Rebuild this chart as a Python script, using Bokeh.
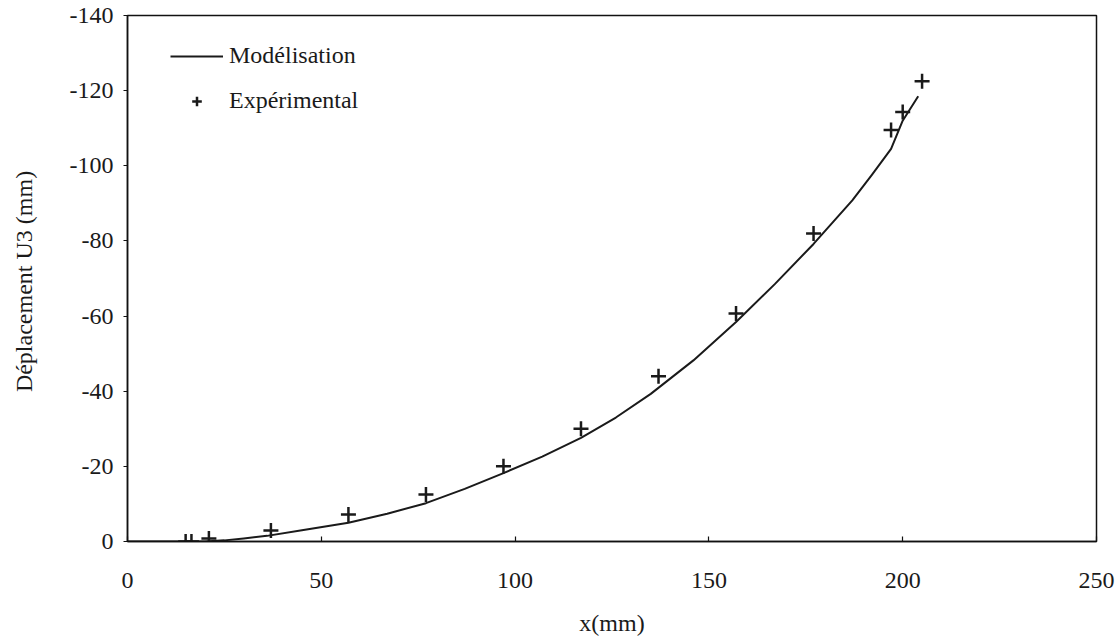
from bokeh.plotting import figure
from bokeh.models import Range1d, FixedTicker, Legend, LegendItem
from bokeh.embed import file_html
from bokeh.resources import INLINE

# Model curve (Modélisation)
model_x = [0, 20, 25, 30, 36, 45, 57, 67, 77, 87, 97, 107, 117, 126, 135, 146, 157, 167, 177, 182, 187, 192, 197, 200, 204]
model_y = [0, 0, -0.3, -0.8, -1.5, -3, -5, -7.4, -10.2, -14, -18.2, -22.6, -27.6, -33, -39.3, -48.2, -58.4, -68.5, -79.2, -85, -90.8, -97.5, -104.5, -112, -118.5]

# Experimental points
exp_x = [15, 16.5, 21, 37, 57, 77, 97, 117, 137, 157, 177, 197, 200, 205]
exp_y = [0, 0, -0.8, -2.9, -7.2, -12.5, -20, -30, -44, -60.7, -82, -109.5, -114.3, -122.5]

x_ticks = [0, 50, 100, 150, 200, 250]
y_ticks = [0, -20, -40, -60, -80, -100, -120, -140]
y_tick_labels = ["0", "-20", "-40", "-60", "-80", "-100", "-120", "-140"]

FONT = "'Liberation Serif', 'Times New Roman', 'DejaVu Serif', serif"

p = figure(width=1119, height=638, output_backend="svg", toolbar_location=None,
           x_range=Range1d(0, 250), y_range=Range1d(0, -140),
           min_border_left=127, min_border_right=23, min_border_top=15, min_border_bottom=97)

p.xgrid.visible = False
p.ygrid.visible = False
p.outline_line_color = "#111111"
p.outline_line_width = 1.5
p.background_fill_color = "white"
p.border_fill_color = "white"

r_line = p.line(model_x, model_y, line_color="#1a1a1a", line_width=2, line_join="round")
r_pts = p.scatter(exp_x, exp_y, marker="cross", size=15, line_color="#1a1a1a", line_width=2.5)

xa = p.xaxis[0]
xa.ticker = FixedTicker(ticks=x_ticks)
xa.axis_label = "x(mm)"
xa.major_tick_in = 5
xa.major_tick_out = 0
xa.minor_tick_in = 0
xa.minor_tick_out = 0
xa.major_label_standoff = 31
xa.axis_label_standoff = 19

ya = p.yaxis[0]
ya.ticker = FixedTicker(ticks=y_ticks)
ya.major_label_overrides = {t: s for t, s in zip(y_ticks, y_tick_labels)}
ya.axis_label = "Déplacement U3  (mm)"
ya.major_tick_in = 0
ya.major_tick_out = 4
ya.minor_tick_in = 0
ya.minor_tick_out = 0
ya.major_label_standoff = 10
ya.axis_label_standoff = 30

for ax in (xa, ya):
    ax.axis_line_color = "#111111"
    ax.axis_line_width = 1.5
    ax.major_tick_line_color = "#111111"
    ax.major_tick_line_width = 1.2
    ax.major_label_text_font = FONT
    ax.major_label_text_font_size = "24px"
    ax.major_label_text_color = "#1a1a1a"
    ax.axis_label_text_font = FONT
    ax.axis_label_text_font_size = "24px"
    ax.axis_label_text_font_style = "normal"
    ax.axis_label_text_color = "#1a1a1a"

legend = Legend(items=[LegendItem(label="Modélisation", renderers=[r_line]),
                       LegendItem(label="Expérimental", renderers=[r_pts])],
                location=(43, 427), orientation="vertical")
legend.border_line_color = None
legend.background_fill_alpha = 0
legend.padding = 0
legend.margin = 0
legend.spacing = 18
legend.glyph_width = 53
legend.glyph_height = 24
legend.label_height = 24
legend.label_standoff = 6
legend.label_text_font = FONT
legend.label_text_font_size = "24px"
legend.label_text_color = "#1a1a1a"
p.add_layout(legend)

open("out.html", "w").write(file_html(p, INLINE))
